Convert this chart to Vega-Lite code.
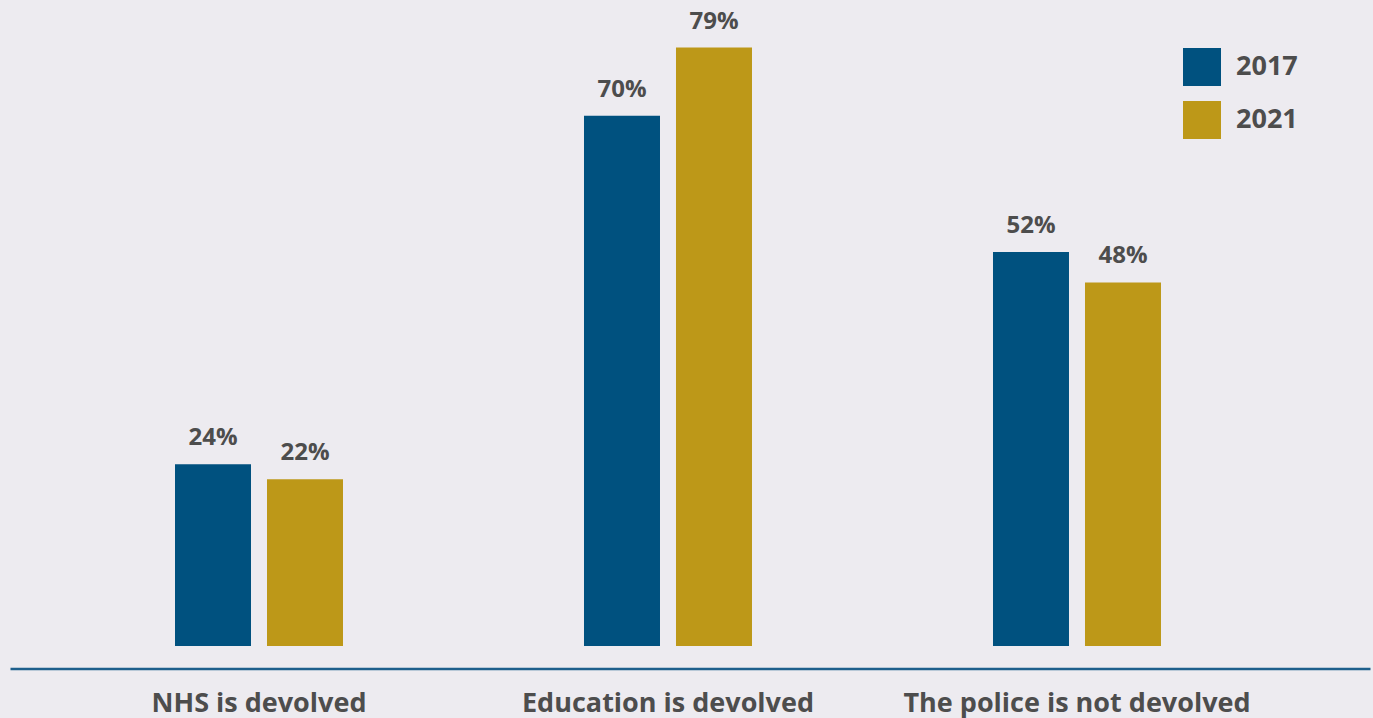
{
  "$schema": "https://vega.github.io/schema/vega-lite/v6.json",
  "autosize": {"type": "none"},
  "width": 1360,
  "height": 646,
  "padding": {"left": 10, "top": 0, "right": 3, "bottom": 72},
  "background": "#EDEBF0",
  "config": {
    "view": {"stroke": null},
    "font": "Open Sans"
  },
  "data": {
    "values": [
      {"category": "NHS is devolved", "year": "2017", "share": 0.24},
      {"category": "NHS is devolved", "year": "2021", "share": 0.22},
      {"category": "Education is devolved", "year": "2017", "share": 0.70},
      {"category": "Education is devolved", "year": "2021", "share": 0.79},
      {"category": "The police is not devolved", "year": "2017", "share": 0.52},
      {"category": "The police is not devolved", "year": "2021", "share": 0.48}
    ]
  },
  "encoding": {
    "x": {
      "field": "category",
      "type": "nominal",
      "sort": null,
      "scale": {"paddingInner": 0.1394, "paddingOuter": 0.2323, "align": 0.3842},
      "axis": {
        "title": null,
        "orient": "bottom",
        "offset": 22.5,
        "domainColor": "#1E5F8C",
        "domainWidth": 2.5,
        "ticks": false,
        "tickSize": 0,
        "grid": false,
        "labelAngle": 0,
        "labelLimit": 0,
        "labelFont": "Open Sans",
        "labelFontSize": 27,
        "labelFontWeight": "bold",
        "labelColor": "#4D4D4D",
        "labelBaseline": "alphabetic",
        "labelPadding": 43
      }
    },
    "xOffset": {
      "field": "year",
      "type": "nominal",
      "scale": {"paddingInner": 0.1739, "paddingOuter": 1}
    },
    "y": {
      "field": "share",
      "type": "quantitative",
      "scale": {"domain": [0, 0.8528], "nice": false, "zero": true},
      "axis": null
    }
  },
  "layer": [
    {
      "mark": {"type": "bar"},
      "encoding": {
        "color": {
          "field": "year",
          "type": "nominal",
          "scale": {"domain": ["2017", "2021"], "range": ["#00517F", "#BD9818"]},
          "legend": {
            "title": null,
            "orient": "none",
            "legendX": 1173,
            "legendY": 48,
            "padding": 0,
            "symbolType": "square",
            "symbolSize": 1444,
            "symbolStrokeWidth": 0,
            "labelFont": "Open Sans",
            "labelFontSize": 27,
            "labelFontWeight": "bold",
            "labelColor": "#4D4D4D",
            "labelOffset": 15,
            "rowPadding": 15
          }
        }
      }
    },
    {
      "mark": {
        "type": "text",
        "baseline": "alphabetic",
        "dy": -19,
        "font": "Open Sans",
        "fontSize": 24,
        "fontWeight": "bold",
        "color": "#4D4D4D"
      },
      "encoding": {
        "text": {"field": "share", "type": "quantitative", "format": ".0%"}
      }
    }
  ]
}
